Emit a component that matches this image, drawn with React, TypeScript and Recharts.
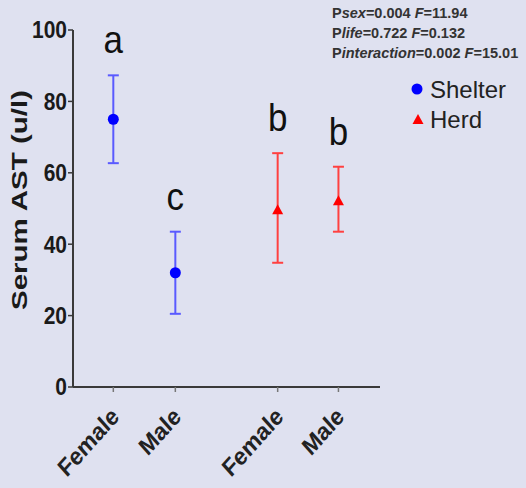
import { ScatterChart, Scatter, XAxis, YAxis, ErrorBar } from 'recharts';

const groups = ['Female', 'Male', 'Female', 'Male'];
const xPos = [1, 2, 3.65, 4.63];
const letters = ['a', 'c', 'b', 'b'];

const shelterMean = [75, 32];
const shelterLow = [62.7, 20.5];
const shelterHigh = [87.3, 43.5];

const herdMean = [49.5, 52];
const herdLow = [34.8, 43.5];
const herdHigh = [65.5, 61.7];

const yTicks = [0, 20, 40, 60, 80, 100];

const shelterData = shelterMean.map((m, i) => ({
  x: xPos[i],
  y: m,
  err: [m - shelterLow[i], shelterHigh[i] - m],
}));

const herdData = herdMean.map((m, i) => ({
  x: xPos[i + 2],
  y: m,
  err: [m - herdLow[i], herdHigh[i] - m],
}));

const highs = [...shelterHigh, ...herdHigh];
const letterData = letters.map((l, i) => ({ x: xPos[i], y: highs[i], letter: l }));

const FONT = '"Liberation Sans", Arial, sans-serif';
const AXIS = '#3a3a3a';

const XTick = (props: any) => {
  const { x, y, payload } = props;
  const i = xPos.indexOf(payload.value);
  return (
    <g transform={`translate(${x + 7},${y + 24}) scale(1,1.12)`}>
      <text transform="rotate(-45)" textAnchor="end" fontSize={22} fontWeight="bold" fill="#222" fontFamily={FONT}>
        {groups[i]}
      </text>
    </g>
  );
};

const YTick = (props: any) => {
  const { x, y, payload } = props;
  return (
    <g transform={`translate(${x},${y}) scale(1,1.12)`}>
      <text x={0} y={0} dy="0.36em" textAnchor="end" fontSize={21} fontWeight="bold" fill="#1a1a1a" fontFamily={FONT}>
        {payload.value}
      </text>
    </g>
  );
};

const Dot = (props: any) => <circle cx={props.cx} cy={props.cy} r={5.5} fill="#0000ff" />;

const Tri = (props: any) => {
  const { cx, cy } = props;
  return <polygon points={`${cx},${cy - 6} ${cx - 5.5},${cy + 4} ${cx + 5.5},${cy + 4}`} fill="#ff0000" />;
};

const Letter = (props: any) => (
  <g transform={`translate(${props.cx},${props.cy - 22}) scale(1,1.12)`}>
    <text x={0} y={0} textAnchor="middle" fontSize={35} fill="#111" fontFamily={FONT}>
      {props.payload.letter}
    </text>
  </g>
);

export default function App() {
  return (
    <div style={{ position: 'absolute', left: 0, top: 0, width: 526, height: 488, background: '#dfe1f0', fontFamily: FONT }}>
      <ScatterChart width={526} height={488} margin={{ top: 30, right: 146, bottom: 71, left: 0 }}>
        <XAxis
          type="number"
          dataKey="x"
          domain={[0.35, 5.3]}
          ticks={xPos}
          interval={0}
          allowDataOverflow
          tick={<XTick />}
          tickSize={5}
          axisLine={{ stroke: AXIS, strokeWidth: 2 }}
          tickLine={{ stroke: '#777', strokeWidth: 1.5 }}
        />
        <YAxis
          type="number"
          dataKey="y"
          domain={[0, 100]}
          ticks={yTicks}
          width={73}
          tickSize={5}
          tickMargin={1}
          axisLine={{ stroke: AXIS, strokeWidth: 2 }}
          tickLine={{ stroke: AXIS, strokeWidth: 1.5 }}
          tick={<YTick />}
        />
        <Scatter data={shelterData} shape={<Dot />} isAnimationActive={false}>
          <ErrorBar dataKey="err" direction="y" width={5.5} stroke="#5a5aff" strokeWidth={2} />
        </Scatter>
        <Scatter data={herdData} shape={<Tri />} isAnimationActive={false}>
          <ErrorBar dataKey="err" direction="y" width={5.5} stroke="#ff4040" strokeWidth={2} />
        </Scatter>
        <Scatter data={letterData} shape={<Letter />} isAnimationActive={false} />
      </ScatterChart>
      <svg width={526} height={488} style={{ position: 'absolute', left: 0, top: 0, pointerEvents: 'none' }}>
        <text
          transform="translate(27,200) rotate(-90)"
          textAnchor="middle"
          fontSize={22}
          fontWeight="bold"
          fill="#1a1a1a"
          textLength={220}
          lengthAdjust="spacingAndGlyphs"
          fontFamily={FONT}
        >
          Serum AST (u/l)
        </text>
        <g fontSize={14.5} fontWeight="bold" fill="#333" fontFamily={FONT}>
          <text x={332} y={18}>P<tspan fontStyle="italic">sex</tspan>=0.004 <tspan fontStyle="italic">F</tspan>=11.94</text>
          <text x={332} y={38}>P<tspan fontStyle="italic">life</tspan>=0.722 <tspan fontStyle="italic">F</tspan>=0.132</text>
          <text x={332} y={58}>P<tspan fontStyle="italic">interaction</tspan>=0.002 <tspan fontStyle="italic">F</tspan>=15.01</text>
        </g>
        <circle cx={417} cy={89} r={5.5} fill="#0000ff" />
        <text x={430} y={98} fontSize={24} fill="#222" fontFamily={FONT}>Shelter</text>
        <polygon points="418,114 412.5,124 423.5,124" fill="#ff0000" />
        <text x={430} y={128} fontSize={24} fill="#222" fontFamily={FONT}>Herd</text>
      </svg>
    </div>
  );
}
